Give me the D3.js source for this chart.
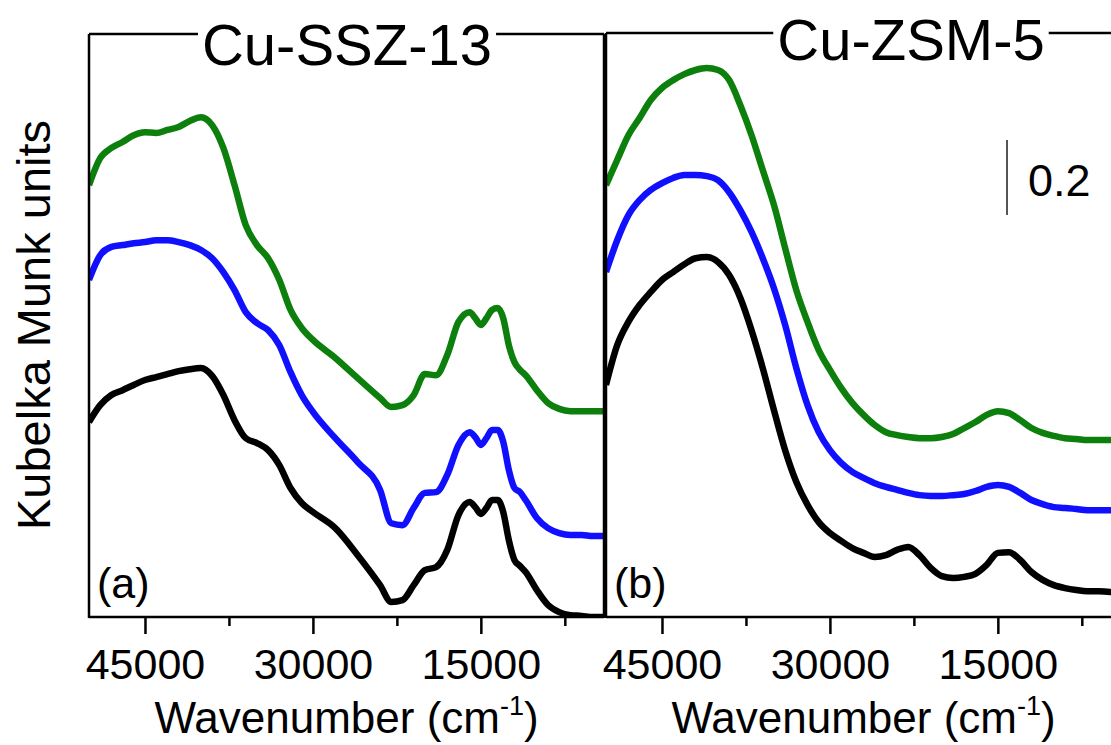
<!DOCTYPE html>
<html>
<head>
<meta charset="utf-8">
<script src="https://cdn.jsdelivr.net/npm/d3@7"></script>
<style>
  body { margin: 0; background: #fff; }
  svg { display: block; font-family: 'Liberation Sans', Arial, sans-serif; }
</style>
</head>
<body>
<div id="chart"></div>
<script>
// wavenumber grids (cm-1)
const wnA = [50000, 49000, 48000, 47000, 46000, 45000, 44000, 43000, 42000, 41000, 40000,
  39000, 38000, 37000, 36000, 35000, 34000, 33000, 32000, 31000, 30000,
  28000, 26000, 24000, 23000, 22000, 21000, 20000, 19000, 18000, 17000, 16000,
  15500, 15000, 14500, 14000, 13500, 13000, 12500, 12000, 11500, 11000,
  10000, 9000, 8000, 7000, 6000, 5000, 4000]
const wnB = [50000, 49000, 48000, 47000, 46000, 45000, 44000, 43000, 42000, 41000,
  40000, 39000, 38000, 37000, 36000, 35000, 34000, 33000, 32000, 31000,
  30000, 29000, 28000, 27000, 26000, 25000, 24000, 23000, 22000, 21000,
  20000, 19000, 18000, 17000, 16000, 15000, 14000, 13000, 12000, 11000,
  10000, 9000, 8000, 7000, 6000, 5000, 4000]

// Kubelka Munk values (with stacking offsets as plotted)
const greenA = [1.152, 1.224, 1.251, 1.267, 1.285, 1.293, 1.291, 1.299, 1.307, 1.323, 1.333,
  1.312, 1.251, 1.152, 1.045, 0.992, 0.957, 0.899, 0.819, 0.771, 0.739,
  0.691, 0.637, 0.584, 0.560, 0.565, 0.592, 0.648, 0.645, 0.699, 0.787, 0.813,
  0.797, 0.779, 0.797, 0.819, 0.824, 0.797, 0.725, 0.680, 0.659, 0.645,
  0.605, 0.571, 0.555, 0.549, 0.549, 0.549, 0.549]
const blueA = [0.899, 0.965, 0.987, 0.992, 0.997, 1.000, 1.005, 1.005, 1.000, 0.992, 0.979,
  0.957, 0.920, 0.872, 0.813, 0.784, 0.765, 0.725, 0.653, 0.592, 0.547,
  0.477, 0.413, 0.339, 0.250, 0.245, 0.291, 0.331, 0.333, 0.379, 0.459, 0.493,
  0.480, 0.459, 0.477, 0.499, 0.499, 0.467, 0.392, 0.344, 0.333, 0.312,
  0.264, 0.237, 0.224, 0.219, 0.219, 0.216, 0.216]
const blackA = [0.520, 0.565, 0.592, 0.605, 0.619, 0.632, 0.640, 0.648, 0.656, 0.661, 0.664,
  0.643, 0.592, 0.525, 0.477, 0.464, 0.445, 0.405, 0.344, 0.304, 0.280,
  0.237, 0.165, 0.085, 0.040, 0.045, 0.085, 0.125, 0.133, 0.179, 0.272, 0.307,
  0.293, 0.275, 0.291, 0.312, 0.312, 0.280, 0.205, 0.152, 0.136, 0.120,
  0.072, 0.032, 0.013, 0.005, 0.003, 0.000, 0.000]

const greenB = [1.152, 1.219, 1.285, 1.331, 1.379, 1.411, 1.432, 1.448, 1.459, 1.464,
  1.459, 1.432, 1.365, 1.285, 1.192, 1.099, 0.984, 0.872, 0.787, 0.712,
  0.659, 0.611, 0.571, 0.539, 0.512, 0.493, 0.485, 0.480, 0.477, 0.477,
  0.480, 0.488, 0.504, 0.520, 0.539, 0.549, 0.544, 0.525, 0.504, 0.491,
  0.483, 0.477, 0.475, 0.472, 0.472, 0.472, 0.472]
const blueB = [0.920, 1.005, 1.072, 1.112, 1.139, 1.157, 1.171, 1.179, 1.179, 1.176,
  1.165, 1.133, 1.085, 1.027, 0.957, 0.877, 0.779, 0.664, 0.565, 0.493,
  0.445, 0.411, 0.387, 0.371, 0.357, 0.347, 0.339, 0.331, 0.325, 0.323,
  0.323, 0.325, 0.328, 0.336, 0.347, 0.352, 0.347, 0.331, 0.312, 0.301,
  0.293, 0.291, 0.288, 0.285, 0.285, 0.285, 0.285]
const blackB = [0.619, 0.725, 0.787, 0.832, 0.867, 0.899, 0.920, 0.941, 0.957, 0.960,
  0.947, 0.912, 0.851, 0.765, 0.664, 0.552, 0.445, 0.360, 0.299, 0.253,
  0.224, 0.203, 0.184, 0.171, 0.160, 0.165, 0.179, 0.187, 0.165, 0.131,
  0.109, 0.104, 0.107, 0.115, 0.139, 0.171, 0.173, 0.152, 0.120, 0.099,
  0.085, 0.077, 0.072, 0.069, 0.069, 0.067, 0.067]

const majorTicks = [45000, 30000, 15000]
const minorTicks = [37500, 22500, 7500]
const xDomain = [50000, 4000]
const yDomain = [0, 1.555]
const scaleBarValue = 0.2

const colors = { green: '#0c7f0c', blue: '#1010ff', black: '#000' }

const panels = [
  { id: 'a', title: 'Cu-SSZ-13', label: '(a)', left: 89, right: 604, top: 34, titleX: 347, titleY: 65,
    wn: wnA, series: [['black', blackA], ['blue', blueA], ['green', greenA]] },
  { id: 'b', title: 'Cu-ZSM-5', label: '(b)', left: 606, right: 1121, top: 33, titleX: 911, titleY: 60,
    wn: wnB, series: [['black', blackB], ['blue', blueB], ['green', greenB]] }
]

let width = 1111, height = 745, bottom = 617

let svg = d3.select('#chart').append('svg')
  .attr('width', width)
  .attr('height', height)

let y = d3.scaleLinear().domain(yDomain).range([bottom, 34])

panels.forEach((p) => {
  let x = d3.scaleLinear().domain(xDomain).range([p.left, p.right])
  let g = svg.append('g').attr('class', 'panel-' + p.id)

  g.append('clipPath').attr('id', 'clip-' + p.id)
    .append('rect')
    .attr('x', p.left).attr('y', p.top)
    .attr('width', p.right - p.left).attr('height', bottom - p.top)

  let line = d3.line()
    .x((d) => x(d.wn))
    .y((d) => y(d.v))
    .curve(d3.curveMonotoneX)

  p.series.forEach(([name, vals]) => {
    let data = p.wn.map((wn, i) => ({ wn: wn, v: vals[i] }))
    g.append('path')
      .datum(data)
      .attr('clip-path', 'url(#clip-' + p.id + ')')
      .attr('fill', 'none')
      .attr('stroke', colors[name])
      .attr('stroke-width', 6.5)
      .attr('stroke-linejoin', 'round')
      .attr('d', line)
  })

  // axes
  let major = g.append('g')
    .attr('transform', 'translate(0,' + bottom + ')')
    .call(d3.axisBottom(x).tickValues(majorTicks).tickSize(17).tickPadding(14).tickFormat(d3.format('d')))
  major.select('.domain').remove()
  major.selectAll('line').attr('stroke-width', 2.5)
  major.selectAll('text')
    .attr('font-size', 43)
    .attr('font-family', "'Liberation Sans', Arial, sans-serif")
    .attr('fill', '#000')

  let minor = g.append('g')
    .attr('transform', 'translate(0,' + bottom + ')')
    .call(d3.axisBottom(x).tickValues(minorTicks).tickSize(9).tickFormat(''))
  minor.select('.domain').remove()
  minor.selectAll('line').attr('stroke-width', 2.5)

  // frame
  g.append('line')
    .attr('x1', p.left).attr('x2', p.right).attr('y1', bottom).attr('y2', bottom)
    .attr('stroke', '#000').attr('stroke-width', 2.5)
  g.append('line')
    .attr('x1', p.left).attr('x2', p.left).attr('y1', p.top).attr('y2', bottom + 1)
    .attr('stroke', '#000').attr('stroke-width', 2.5)
  g.append('line')
    .attr('x1', p.right).attr('x2', p.right).attr('y1', p.top).attr('y2', bottom + 1)
    .attr('stroke', '#000').attr('stroke-width', 2.5)

  let title = g.append('text')
    .attr('x', p.titleX).attr('y', p.titleY)
    .attr('text-anchor', 'middle')
    .attr('font-size', 58)
    .text(p.title)
  let bb = title.node().getBBox()
  g.append('line')
    .attr('x1', p.left).attr('x2', bb.x - 4).attr('y1', p.top).attr('y2', p.top)
    .attr('stroke', '#000').attr('stroke-width', 2.5)
  g.append('line')
    .attr('x1', bb.x + bb.width + 4).attr('x2', p.right).attr('y1', p.top).attr('y2', p.top)
    .attr('stroke', '#000').attr('stroke-width', 2.5)

  g.append('text')
    .attr('x', p.left + 8).attr('y', 598)
    .attr('font-size', 43)
    .text(p.label)

  let xl = g.append('text')
    .attr('x', (p.left + p.right) / 2)
    .attr('y', 733)
    .attr('text-anchor', 'middle')
    .attr('font-size', 44)
  xl.append('tspan').text('Wavenumber (cm')
  xl.append('tspan').attr('dy', -18).attr('font-size', 27).text('-1')
  xl.append('tspan').attr('dy', 18).text(')')
})

svg.append('text')
  .attr('transform', 'translate(50,' + 325 + ') rotate(-90)')
  .attr('text-anchor', 'middle')
  .attr('font-size', 47)
  .text('Kubelka Munk units')

// scale bar
svg.append('line')
  .attr('x1', 1007).attr('x2', 1007)
  .attr('y1', 140).attr('y2', 140 + (y(0) - y(scaleBarValue)))
  .attr('stroke', '#555').attr('stroke-width', 2)
svg.append('text')
  .attr('x', 1028).attr('y', 196)
  .attr('font-size', 45)
  .text(scaleBarValue)
</script>
</body>
</html>
